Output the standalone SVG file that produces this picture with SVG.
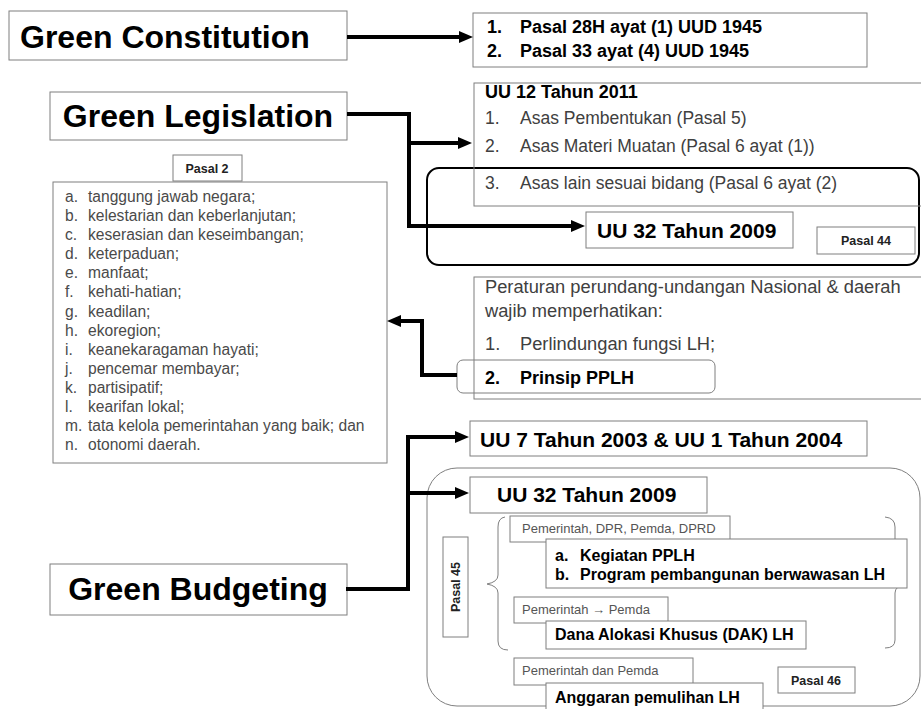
<svg xmlns="http://www.w3.org/2000/svg" width="921" height="709" viewBox="0 0 921 709">
<style>
text{font-family:"Liberation Sans",Arial,sans-serif}
.box{fill:#fff;stroke:#7f7f7f;stroke-width:1}
.ob{fill:none;stroke:#7f7f7f;stroke-width:1}
.big{font-size:32px;font-weight:bold;fill:#000}
.b16{font-size:16px;font-weight:bold;fill:#000}
.b18{font-size:18px;font-weight:bold;fill:#000}
.b21{font-size:21px;font-weight:bold;fill:#000}
.n17{font-size:17.5px;fill:#404040}
.n18{font-size:18.3px;fill:#404040}
.lst{font-size:15.6px;fill:#4a4a4a}
.sm{font-size:13px;fill:#555}
.lab{font-size:12.5px;font-weight:bold;fill:#222}
.con{fill:none;stroke:#000;stroke-width:4;stroke-linejoin:miter}
</style>
<defs>
<marker id="ah" viewBox="0 0 14 12" refX="1" refY="6" markerWidth="14" markerHeight="12" markerUnits="userSpaceOnUse" orient="auto">
<path d="M0,0 L14,6 L0,12 z" fill="#000"/>
</marker>
</defs>

<g id="frame-legislation">
<rect x="427" y="168" width="492" height="97" rx="12" fill="none" stroke="#000" stroke-width="2"/>
</g>
<g id="frame-budgeting">
<rect x="427" y="468" width="493" height="238" rx="30" fill="none" stroke="#7f7f7f" stroke-width="1"/>
</g>

<g id="green-constitution">
<rect class="box" x="9" y="11" width="338" height="49"/>
<text class="big" x="20" y="48">Green Constitution</text>
</g>

<g id="uud-1945">
<rect class="box" x="473" y="13" width="394" height="54"/>
<text class="b18" x="487" y="33">1.</text>
<text class="b18" x="520" y="33">Pasal 28H ayat (1) UUD 1945</text>
<text class="b18" x="487" y="57">2.</text>
<text class="b18" x="520" y="57">Pasal 33 ayat (4) UUD 1945</text>
</g>

<g id="green-legislation">
<rect class="box" x="50" y="92" width="297" height="48"/>
<text class="big" x="198" y="127" text-anchor="middle">Green Legislation</text>
</g>

<g id="uu-12-2011">
<rect class="ob" x="474" y="83" width="460" height="123"/>
<text class="b18" x="485" y="98">UU 12 Tahun 2011</text>
<text class="n17" x="485" y="124">1.</text>
<text class="n17" x="520" y="124">Asas Pembentukan (Pasal 5)</text>
<text class="n17" x="485" y="152">2.</text>
<text class="n17" x="520" y="152">Asas Materi Muatan  (Pasal 6 ayat (1))</text>
<text class="n17" x="485" y="189">3.</text>
<text class="n17" x="520" y="189">Asas lain sesuai bidang (Pasal 6 ayat (2)</text>
</g>

<g id="uu-32-2009-a">
<rect class="box" x="586" y="212" width="207" height="36"/>
<text class="b21" x="597" y="238">UU 32 Tahun 2009</text>
</g>

<g id="pasal-44">
<rect class="box" x="817" y="227" width="98" height="27"/>
<text class="lab" x="866" y="245" text-anchor="middle">Pasal 44</text>
</g>

<g id="pasal-2">
<rect class="box" x="173" y="155" width="69" height="26"/>
<text class="lab" x="207" y="173" text-anchor="middle">Pasal 2</text>
</g>

<g id="asas-list">
<rect class="box" x="53" y="182" width="334" height="281"/>
<g class="lst">
<text x="65" y="202">a.</text><text x="88" y="202">tanggung jawab negara;</text>
<text x="65" y="221">b.</text><text x="88" y="221">kelestarian dan keberlanjutan;</text>
<text x="65" y="240">c.</text><text x="88" y="240">keserasian dan keseimbangan;</text>
<text x="65" y="259">d.</text><text x="88" y="259">keterpaduan;</text>
<text x="65" y="278">e.</text><text x="88" y="278">manfaat;</text>
<text x="65" y="297">f.</text><text x="88" y="297">kehati-hatian;</text>
<text x="65" y="317">g.</text><text x="88" y="317">keadilan;</text>
<text x="65" y="336">h.</text><text x="88" y="336">ekoregion;</text>
<text x="65" y="355">i.</text><text x="88" y="355">keanekaragaman hayati;</text>
<text x="65" y="374">j.</text><text x="88" y="374">pencemar membayar;</text>
<text x="65" y="393">k.</text><text x="88" y="393">partisipatif;</text>
<text x="65" y="412">l.</text><text x="88" y="412">kearifan lokal;</text>
<text x="65" y="431">m.</text><text x="88" y="431">tata kelola pemerintahan yang baik; dan</text>
<text x="65" y="450">n.</text><text x="88" y="450">otonomi daerah.</text>
</g>
</g>

<g id="peraturan">
<rect class="ob" x="474" y="277" width="460" height="122"/>
<text class="n18" x="485" y="293">Peraturan perundang-undangan Nasional &amp; daerah</text>
<text class="n18" x="485" y="317">wajib memperhatikan:</text>
<text class="n18" x="485" y="350">1.</text>
<text class="n18" x="520" y="350">Perlindungan fungsi LH;</text>
</g>

<g id="prinsip-pplh">
<rect x="457" y="360" width="258" height="33" rx="6" fill="none" stroke="#7f7f7f" stroke-width="1"/>
<text class="b18" x="485" y="384">2.</text>
<text class="b18" x="520" y="384">Prinsip PPLH</text>
</g>

<g id="green-budgeting">
<rect class="box" x="50" y="564" width="297" height="51"/>
<text class="big" x="198" y="600" text-anchor="middle">Green Budgeting</text>
</g>

<g id="uu-7-2003">
<rect class="box" x="470" y="421" width="397" height="35"/>
<text class="b21" x="480" y="447">UU 7 Tahun 2003 &amp; UU 1 Tahun 2004</text>
</g>

<g id="uu-32-2009-b">
<rect class="box" x="470" y="477" width="237" height="36"/>
<text class="b21" x="497" y="502">UU 32 Tahun 2009</text>
</g>

<g id="pasal-45">
<rect class="box" x="443" y="537" width="25" height="100"/>
<text class="lab" x="0" y="0" text-anchor="middle" transform="translate(460,587) rotate(-90)">Pasal 45</text>
</g>

<g id="braces">
<path class="ob" d="M505,517 Q498,518 498,527 L498,575 Q498,582 487,584 Q498,586 498,593 L498,641 Q498,650 508,650"/>
<path class="ob" d="M885,517 Q895,518 895,527 L895,575 Q895,582 906,584 Q895,586 895,593 L895,640 Q895,648 885,648"/>
</g>

<g id="pemerintah-dpr">
<rect class="box" x="510" y="516" width="220" height="26"/>
<text class="sm" x="522" y="533">Pemerintah, DPR, Pemda, DPRD</text>
</g>

<g id="kegiatan">
<rect class="box" x="546" y="539" width="361" height="49"/>
<text class="b16" x="555" y="561">a.</text>
<text class="b16" x="580" y="561">Kegiatan PPLH</text>
<text class="b16" x="555" y="580">b.</text>
<text class="b16" x="580" y="580">Program pembangunan berwawasan LH</text>
</g>

<g id="pemerintah-pemda">
<rect class="box" x="514" y="597" width="154" height="26"/>
<text class="sm" x="522" y="614">Pemerintah → Pemda</text>
</g>

<g id="dak">
<rect class="box" x="546" y="621" width="260" height="28"/>
<text class="b16" x="555" y="640">Dana Alokasi Khusus (DAK) LH</text>
</g>

<g id="pemerintah-dan-pemda">
<rect class="box" x="514" y="658" width="179" height="27"/>
<text class="sm" x="522" y="675">Pemerintah dan Pemda</text>
</g>

<g id="anggaran">
<rect class="box" x="546" y="683" width="217" height="40"/>
<text class="b16" x="555" y="703">Anggaran pemulihan LH</text>
</g>

<g id="pasal-46">
<rect class="box" x="778" y="667" width="77" height="26"/>
<text class="lab" x="816" y="685" text-anchor="middle">Pasal 46</text>
</g>

<g id="connectors">
<path class="con" d="M347,37 H460" marker-end="url(#ah)"/>
<path class="con" d="M347,114 H409 V226 H572" marker-end="url(#ah)"/>
<path class="con" d="M409,143 H459" marker-end="url(#ah)"/>
<path class="con" d="M457,375 H422 V321 H400" marker-end="url(#ah)"/>
<path class="con" d="M346,589 H408 V437 H456" marker-end="url(#ah)"/>
<path class="con" d="M408,493 H456" marker-end="url(#ah)"/>
</g>
</svg>
